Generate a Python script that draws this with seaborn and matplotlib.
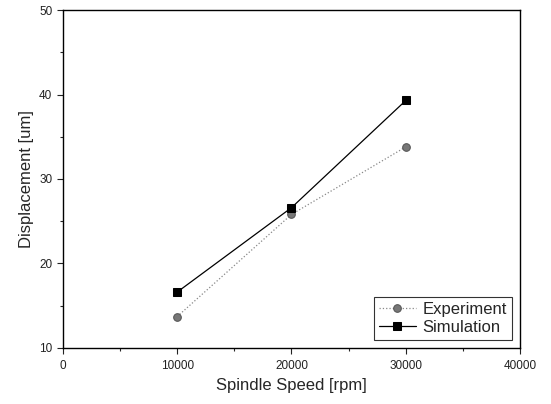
import numpy as np
import pandas as pd
import matplotlib
matplotlib.use("Agg")
import matplotlib.pyplot as plt
import seaborn as sns
from matplotlib.ticker import MultipleLocator

# Data
speed = [10000, 20000, 30000]
experiment = [13.7, 25.8, 33.8]
simulation = [16.6, 26.6, 39.3]

df = pd.DataFrame({
    "speed": speed * 2,
    "disp": experiment + simulation,
    "series": ["Experiment"] * 3 + ["Simulation"] * 3,
})

sns.set_style("ticks")
plt.rcParams['font.family'] = ['Liberation Sans', 'DejaVu Sans']

fig = plt.figure(figsize=(5.51, 4.04), dpi=100)
ax = fig.add_axes([0.114, 0.139, 0.830, 0.836])

sns.lineplot(data=df[df.series == "Experiment"], x="speed", y="disp", ax=ax,
             color="#888888", linestyle=":", linewidth=0.9, marker="o",
             markersize=5.5, markerfacecolor="#777777", markeredgecolor="#555555",
             label="Experiment")
sns.lineplot(data=df[df.series == "Simulation"], x="speed", y="disp", ax=ax,
             color="black", linestyle="-", linewidth=0.9, marker="s",
             markersize=5.5, markerfacecolor="black", markeredgecolor="black",
             label="Simulation")

ax.set_xlim(0, 40000)
ax.set_ylim(10, 50)
ax.xaxis.set_major_locator(MultipleLocator(10000))
ax.xaxis.set_minor_locator(MultipleLocator(5000))
ax.yaxis.set_major_locator(MultipleLocator(10))
ax.yaxis.set_minor_locator(MultipleLocator(5))
ax.tick_params(which="major", direction="out", length=4, width=0.8, labelsize=8.5,
               colors="#222222")
ax.tick_params(axis="x", which="major", pad=5)
ax.tick_params(which="minor", direction="out", length=2.5, width=0.8)

for s in ax.spines.values():
    s.set_linewidth(1.0)
    s.set_color("black")

ax.set_xlabel("Spindle Speed [rpm]", fontsize=12)
ax.set_ylabel("Displacement [um]", fontsize=12)

leg = ax.legend(loc="lower right", fontsize=12, frameon=True, fancybox=False,
                handlelength=2.2, borderpad=0.3, labelspacing=0.15,
                handletextpad=0.4, borderaxespad=0.5)
leg.get_frame().set_edgecolor("black")
leg.get_frame().set_linewidth(0.8)

fig.savefig("out.png", dpi=100)
